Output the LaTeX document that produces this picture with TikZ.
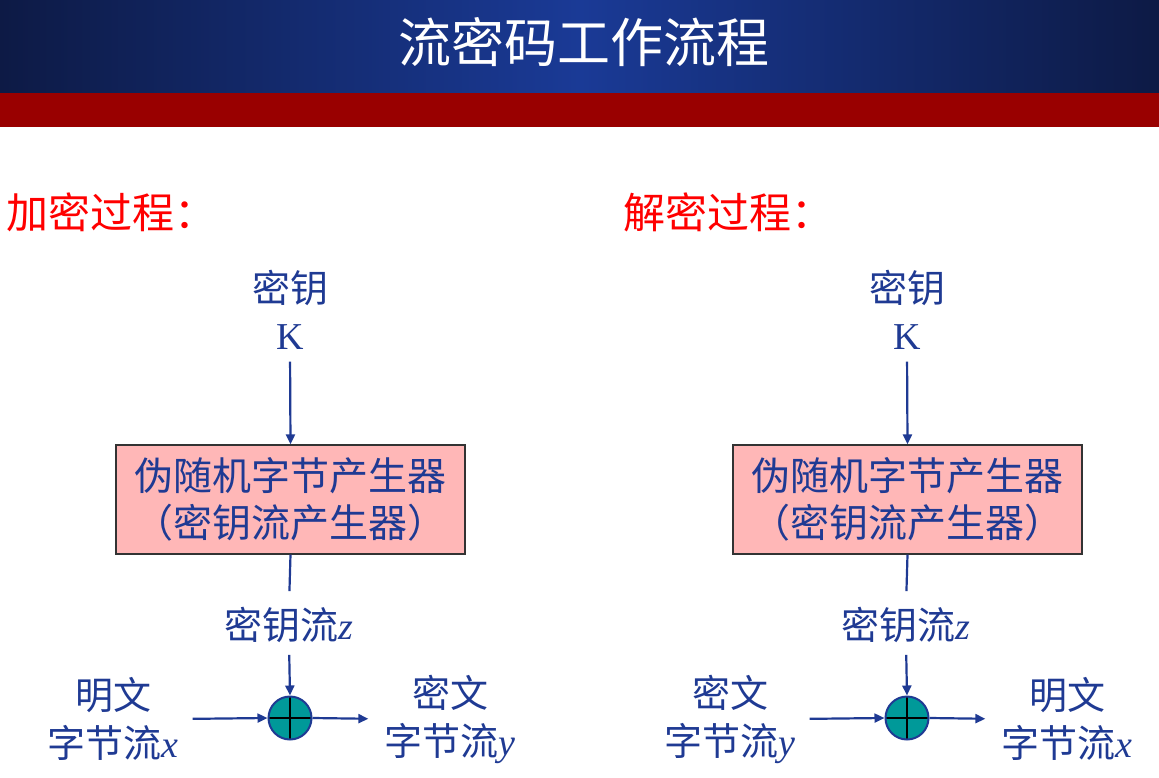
\documentclass[tikz,border=0pt]{standalone}
\usepackage{fontspec}
\setmainfont{Liberation Serif}
\newfontfamily\cjk{Noto Sans CJK SC}
\usetikzlibrary{arrows.meta}

\definecolor{barblue}{HTML}{1A3A96}
\definecolor{bardark}{HTML}{0D1A45}
\definecolor{barred}{HTML}{990000}
\definecolor{inkblue}{HTML}{1F3A93}
\definecolor{boxpink}{HTML}{FFB7B7}
\definecolor{xorteal}{HTML}{009999}

\newcommand\var[1]{{\rmfamily\itshape #1}}

\tikzset{
  tag/.style={text=inkblue, font=\fontsize{38}{48}\selectfont\cjk, align=center, inner sep=0pt},
  genbox/.style={draw=black!80, fill=boxpink, line width=1.2pt, minimum width=349pt,
    minimum height=109pt, align=center, text=inkblue, font=\fontsize{39}{47}\selectfont\cjk},
  xorsum/.style={circle, draw=inkblue, fill=xorteal, line width=2pt, minimum size=43pt, inner sep=0pt,
    path picture={\draw[black, line width=2.2pt]
      (path picture bounding box.north) -- (path picture bounding box.south)
      (path picture bounding box.west) -- (path picture bounding box.east);}},
  flow/.style={inkblue, line width=2.2pt, -{Triangle[length=10pt,width=9pt]}},
  feed/.style={inkblue, line width=2.2pt},
  heading/.style={anchor=west, text=red, font=\fontsize{42}{42}\selectfont\cjk, inner sep=0pt},
}

\begin{document}
\begin{tikzpicture}[x=1pt, y=-1pt]
\useasboundingbox (0,0) rectangle (1159,778);

% header
\shade[left color=bardark, right color=bardark, middle color=barblue] (0,0) rectangle (1159,94);
\fill[barred] (0,93) rectangle (1159,127);
\node[text=white, font=\fontsize{53}{53}\selectfont\cjk] (title) at (584,42) {流密码工作流程};

\node[heading] (enc) at (6,212) {加密过程：};
\node[heading] (dec) at (623,212) {解密过程：};

% encryption
\node[tag] (keyL) at (290,288) {密钥};
\node[tag] (kL) at (290,337) {\rmfamily K};
\node[genbox] (genL) at (290.5,499.5) {伪随机字节产生器\\（密钥流产生器）};
\node[tag] (zL) at (289,625) {密钥流\var{z}};
\node[xorsum] (xorL) at (290,718) {};
\node[tag] (inL) at (113,719) {明文\\字节流\var{x}};
\node[tag] (outL) at (450,719) {密文\\字节流\var{y}};

\draw[flow, shorten <=12pt] (kL.south) -- (genL.north);
\draw[feed, shorten >=16pt] (genL.south) -- (zL.north);
\draw[flow, shorten <=12pt] (zL.south) -- (xorL.north);
\draw[flow, shorten <=14pt] (inL.east) -- (xorL.west);
\draw[flow, shorten >=16pt] (xorL.east) -- (outL.west);

% decryption
\node[tag] (keyR) at (907,288) {密钥};
\node[tag] (kR) at (907,337) {\rmfamily K};
\node[genbox] (genR) at (907.5,499.5) {伪随机字节产生器\\（密钥流产生器）};
\node[tag] (zR) at (906,625) {密钥流\var{z}};
\node[xorsum] (xorR) at (907,718) {};
\node[tag] (inR) at (730,719) {密文\\字节流\var{y}};
\node[tag] (outR) at (1067,719) {明文\\字节流\var{x}};

\draw[flow, shorten <=12pt] (kR.south) -- (genR.north);
\draw[feed, shorten >=16pt] (genR.south) -- (zR.north);
\draw[flow, shorten <=12pt] (zR.south) -- (xorR.north);
\draw[flow, shorten <=14pt] (inR.east) -- (xorR.west);
\draw[flow, shorten >=16pt] (xorR.east) -- (outR.west);

\end{tikzpicture}
\end{document}
